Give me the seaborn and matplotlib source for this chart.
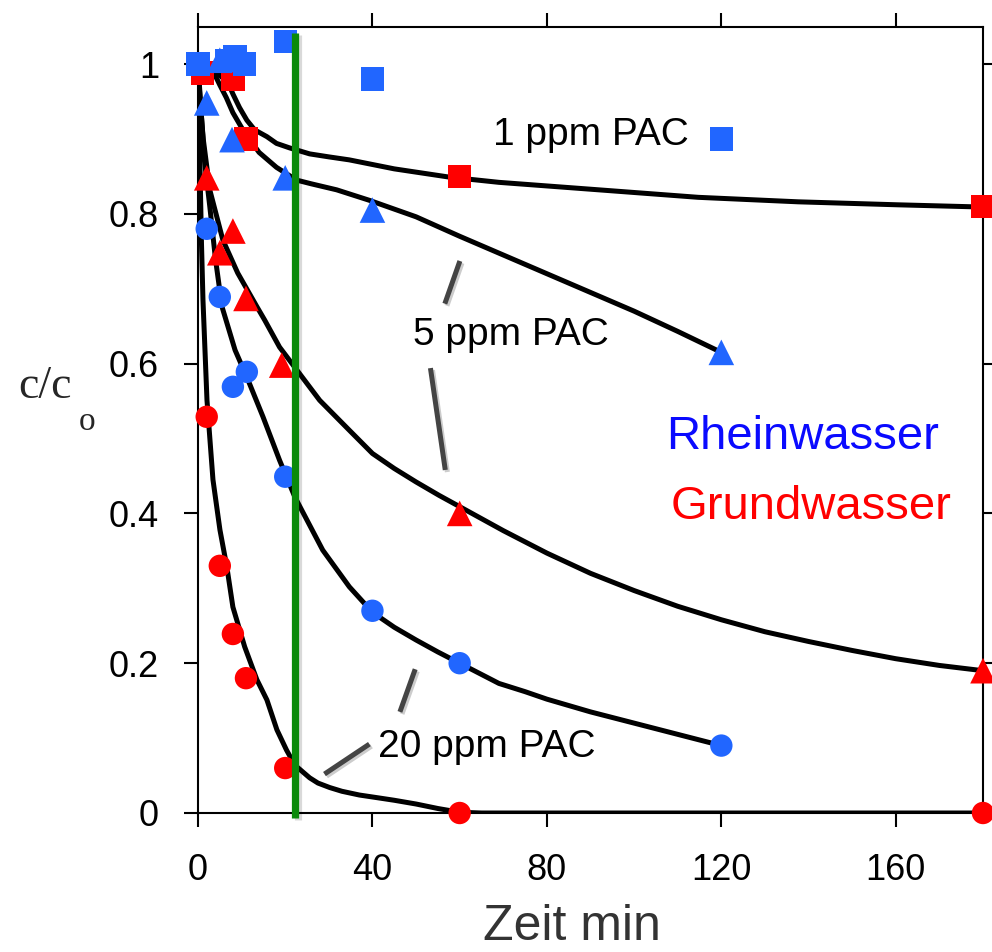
import numpy as np
import pandas as pd
import matplotlib
matplotlib.use("Agg")
import matplotlib.pyplot as plt
import matplotlib.patheffects as pe
import seaborn as sns

# measured points (minutes, c/c0)
rhein_1_x = [0, 6.6, 8.5, 10.7, 20, 40, 120]
rhein_1_y = [1.0, 1.005, 1.01, 1.0, 1.03, 0.98, 0.90]
grund_1_x = [1, 8, 11, 60, 180]
grund_1_y = [0.988, 0.98, 0.90, 0.85, 0.81]

rhein_5_x = [2, 5, 7.8, 20, 40, 120]
rhein_5_y = [0.948, 1.005, 0.899, 0.848, 0.805, 0.615]
grund_5_x = [2, 5, 8, 11, 19.2, 60, 180]
grund_5_y = [0.848, 0.748, 0.777, 0.687, 0.598, 0.40, 0.19]

rhein_20_x = [2, 5, 8, 11.2, 20, 40, 60, 120]
rhein_20_y = [0.78, 0.689, 0.569, 0.589, 0.449, 0.27, 0.20, 0.09]
grund_20_x = [2, 5, 8, 11, 20, 60, 180]
grund_20_y = [0.529, 0.33, 0.239, 0.18, 0.06, 0.0, 0.0]

# fitted curves
fit_1_x = [0, 2, 4, 6.9, 8, 9.5, 11.2, 13, 15.8, 18, 21, 25.6, 30, 34.7, 45, 57.6, 69,
           91.9, 114.7, 137.6, 160.5, 180]
fit_1_y = [1.0, 0.995, 0.99, 0.975, 0.96, 0.942, 0.925, 0.912, 0.903, 0.894, 0.888, 0.88,
           0.876, 0.872, 0.86, 0.849, 0.842, 0.832, 0.822, 0.816, 0.812, 0.809]

fit_5r_x = [0, 2, 3.5, 5, 6.5, 8, 10, 11.9, 14, 18, 22.6, 26, 31.8, 39.3, 50, 60, 70, 80,
            90, 100, 110, 120]
fit_5r_y = [1.0, 0.995, 0.99, 0.972, 0.955, 0.935, 0.915, 0.899, 0.882, 0.862, 0.845, 0.84,
            0.832, 0.818, 0.796, 0.77, 0.745, 0.72, 0.695, 0.67, 0.643, 0.615]

fit_5g_x = [0, 0.5, 1.2, 2.7, 5.7, 9.1, 13.5, 15.3, 18.7, 22.2, 27.9, 34.7, 40, 45, 50, 55.3,
            60, 70, 80, 90, 100, 110, 120, 130, 140, 150, 160, 170, 180]
fit_5g_y = [1.0, 0.95, 0.9, 0.832, 0.765, 0.721, 0.676, 0.658, 0.622, 0.595, 0.551, 0.511,
            0.48, 0.46, 0.442, 0.424, 0.409, 0.377, 0.347, 0.32, 0.297, 0.276, 0.258, 0.242,
            0.229, 0.217, 0.206, 0.197, 0.19]

fit_20r_x = [0, 0.8, 1.5, 2.7, 4, 5.5, 8.5, 11.2, 14.9, 18.7, 22.2, 28.6, 34.7, 40, 45, 50,
             55, 60, 65, 69, 75, 80, 90, 100, 110, 120]
fit_20r_y = [1.0, 0.93, 0.87, 0.81, 0.74, 0.676, 0.618, 0.582, 0.529, 0.471, 0.422, 0.351,
             0.302, 0.268, 0.248, 0.231, 0.215, 0.2, 0.185, 0.173, 0.162, 0.152, 0.135,
             0.12, 0.105, 0.09]

fit_20g_x = [0, 0.2, 0.5, 0.8, 1.14, 2.06, 3.43, 5.03, 6.63, 8.0, 10.7, 13.5, 15.8, 18.1,
             20.3, 22.2, 25.6, 27.5, 30.2, 33, 37.0, 41.6, 45, 50, 55, 60, 65, 180]
fit_20g_y = [1.0, 0.95, 0.85, 0.76, 0.685, 0.551, 0.445, 0.378, 0.328, 0.275, 0.222, 0.178,
             0.151, 0.111, 0.084, 0.064, 0.047, 0.040, 0.034, 0.029, 0.024, 0.02, 0.017,
             0.012, 0.006, 0.001, 0.0, 0.0]

# pointer lines next to the labels
pointer_x = [[60.05, 56.6], [53.3, 56.7], [49.8, 46.3], [39.3, 29.0]]
pointer_y = [[0.737, 0.680], [0.594, 0.458], [0.192, 0.135], [0.092, 0.052]]

pac_labels = ["1 ppm PAC", "5 ppm PAC", "20 ppm PAC"]
pac_x = [90.1, 71.8, 66.1]
pac_y = [0.905, 0.638, 0.088]

green_x = 22.2

sns.set_style("ticks")
plt.rcParams["font.family"] = ["Liberation Sans", "DejaVu Sans"]

BLUE = "#2166ff"
RED = "#ff0000"

fig = plt.figure(figsize=(9.92, 9.52), dpi=100)
ax = fig.add_axes([198 / 992, 1 - 813 / 952, (983 - 198) / 992, (813 - 27) / 952])

fits = [(fit_1_x, fit_1_y), (fit_5r_x, fit_5r_y), (fit_5g_x, fit_5g_y),
        (fit_20r_x, fit_20r_y), (fit_20g_x, fit_20g_y)]
for fx, fy in fits:
    sns.lineplot(x=fx, y=fy, ax=ax, color="black", lw=3.6, sort=False,
                 estimator=None, zorder=2)

shadow = [pe.SimpleLineShadow(offset=(1.5, -1.5), alpha=0.2), pe.Normal()]
for px, py in zip(pointer_x, pointer_y):
    ax.plot(px, py, color="#444444", lw=3.6, solid_capstyle="butt",
            path_effects=shadow, zorder=2)

series = [
    (grund_1_x, grund_1_y, "s", RED, 280),
    (grund_5_x, grund_5_y, "^", RED, 340),
    (grund_20_x, grund_20_y, "o", RED, 260),
    (rhein_1_x, rhein_1_y, "s", BLUE, 280),
    (rhein_5_x, rhein_5_y, "^", BLUE, 340),
    (rhein_20_x, rhein_20_y, "o", BLUE, 260),
]
for sx, sy, m, c, s in series:
    sns.scatterplot(x=sx, y=sy, ax=ax, marker=m, color=c, s=s,
                    edgecolor="none", linewidth=0, clip_on=False, zorder=3)

ax.plot([green_x, green_x], [-0.007, 1.041], color="#0b8a0b", lw=5.2,
        solid_capstyle="butt", clip_on=False, zorder=4,
        path_effects=[pe.SimpleLineShadow(offset=(2, -1), alpha=0.15), pe.Normal()])

for lab, tx, ty in zip(pac_labels, pac_x, pac_y):
    ax.text(tx, ty, lab, ha="center", va="center", fontsize=28, color="black")

ax.text(138.7, 0.502, "Rheinwasser", ha="center", va="center", fontsize=34, color="#0a0aff")
ax.text(140.6, 0.409, "Grundwasser", ha="center", va="center", fontsize=34, color="#ff0000")

ax.set_xlim(0, 180)
ax.set_ylim(0, 1.0494)
ax.set_xticks([0, 40, 80, 120, 160])
ax.set_yticks([0, 0.2, 0.4, 0.6, 0.8, 1.0])
ax.set_yticklabels(["0", "0.2", "0.4", "0.6", "0.8", "1"])
ax.tick_params(axis="both", direction="out", length=10, width=1.5,
               labelsize=26, top=True, right=True, color="black", labelcolor="black")
ax.tick_params(axis="x", pad=19)
ax.tick_params(axis="y", pad=18)
for sp in ax.spines.values():
    sp.set_visible(True)
    sp.set_linewidth(1.5)
    sp.set_color("black")

ax.set_xlabel("")
ax.set_ylabel("")
fig.text(572 / 992, 2 / 952, "Zeit min", fontsize=36, color="#333333",
         ha="center", va="bottom")

fig.text(18 / 992, 1 - 398 / 952, "c/c", fontsize=33, family="Liberation Serif",
         ha="left", va="baseline")
fig.text(79 / 992, 1 - 430 / 952, "o", fontsize=24, family="Liberation Serif",
         ha="left", va="baseline")

fig.savefig("out.png", dpi=100)
